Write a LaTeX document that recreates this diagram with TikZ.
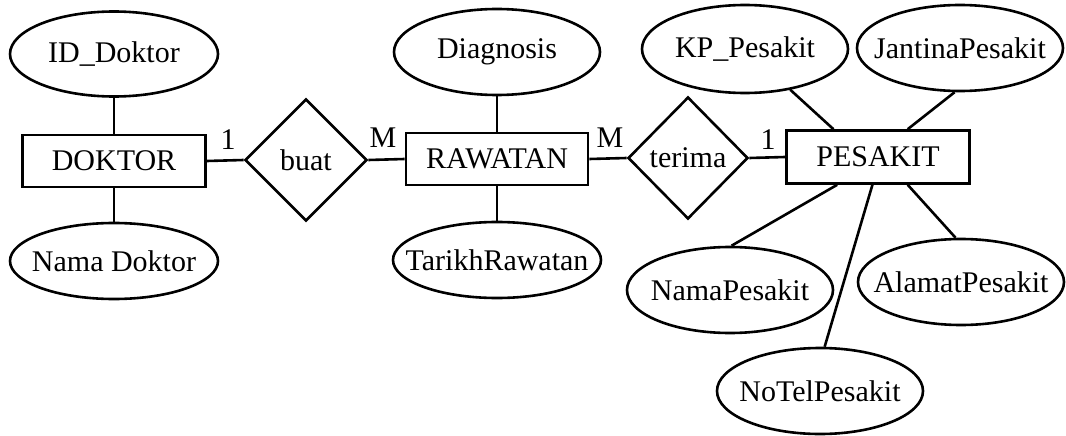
\documentclass[tikz,border=0pt]{standalone}
\usepackage{fontspec}
\setmainfont{Liberation Serif}
\usetikzlibrary{shapes.geometric,calc}
\begin{document}
\begin{tikzpicture}[x=1pt,y=-1pt,
  every node/.style={font=\fontsize{30}{36}\selectfont},
  lbl/.style={inner sep=0pt},
  attr/.style={draw,ellipse,line width=2.6pt,inner sep=0pt,minimum width=206pt,minimum height=86pt,label={[lbl]center:#1}},
  ent/.style={draw,rectangle,line width=2.6pt,inner sep=0pt,minimum height=52pt},
  rel/.style={draw,diamond,line width=2.6pt,inner sep=0pt,minimum width=122pt,minimum height=122pt},
  conn/.style={line width=2.6pt},
  card/.style={inner sep=0pt}]
\useasboundingbox (0,0) rectangle (1066,436);
% entities
\node[ent, minimum width=183pt] (dok) at (114,161) {DOKTOR};
\node[ent, minimum width=182pt] (raw) at (497,159) {RAWATAN};
\node[ent, minimum width=183pt, minimum height=53pt] (pes) at (878,157) {PESAKIT};
% relationships
\node[rel] (buat) at (306,160) {buat};
\node[rel, minimum width=120pt] (ter) at (688,158) {terima};
% attributes
\node[attr={ID\_Doktor}, minimum width=208pt, minimum height=85pt] (idd) at (114,54) {};
\node[attr={Nama Doktor}, minimum width=208pt, minimum height=76pt] (nmd) at (114,261) {};
\node[attr={Diagnosis}] (diag) at (497,52) {};
\node[attr={TarikhRawatan}, minimum width=208pt, minimum height=76pt] (tr) at (497,260) {};
\node[attr={KP\_Pesakit}, minimum height=88pt] (kp) at (745,49) {};
\node[attr={JantinaPesakit}] (jan) at (960,48) {};
\node[attr={NamaPesakit}] (nmp) at (730,290) {};
\node[attr={AlamatPesakit}] (alm) at (961,282) {};
\node[attr={NoTelPesakit}] (nt) at (820,391) {};
% cardinalities
\node[card] (c1) at (228,140) {1};
\node[card] (c2) at (383,138) {M};
\node[card] (c3) at (610,138) {M};
\node[card] (c4) at (768,140) {1};
% connectors
\draw[conn] (idd) -- (dok);
\draw[conn] (dok) -- (nmd);
\draw[conn] (diag) -- (raw);
\draw[conn] (raw) -- (tr);
\draw[conn] (dok.east) -- (buat.west);
\draw[conn] (buat.east) -- (raw.west);
\draw[conn] (raw.east) -- (ter.west);
\draw[conn] (ter.east) -- (pes.west);
\draw[conn] (kp.318) -- ($(pes.north west)!0.26!(pes.north east)$);
\draw[conn] (jan.263) -- ($(pes.north west)!0.66!(pes.north east)$);
\draw[conn] (nmp.88) -- ($(pes.south west)!0.28!(pes.south east)$);
\draw[conn] (nt.84) -- ($(pes.south west)!0.47!(pes.south east)$);
\draw[conn] (alm.97) -- ($(pes.south west)!0.66!(pes.south east)$);
\end{tikzpicture}
\end{document}
